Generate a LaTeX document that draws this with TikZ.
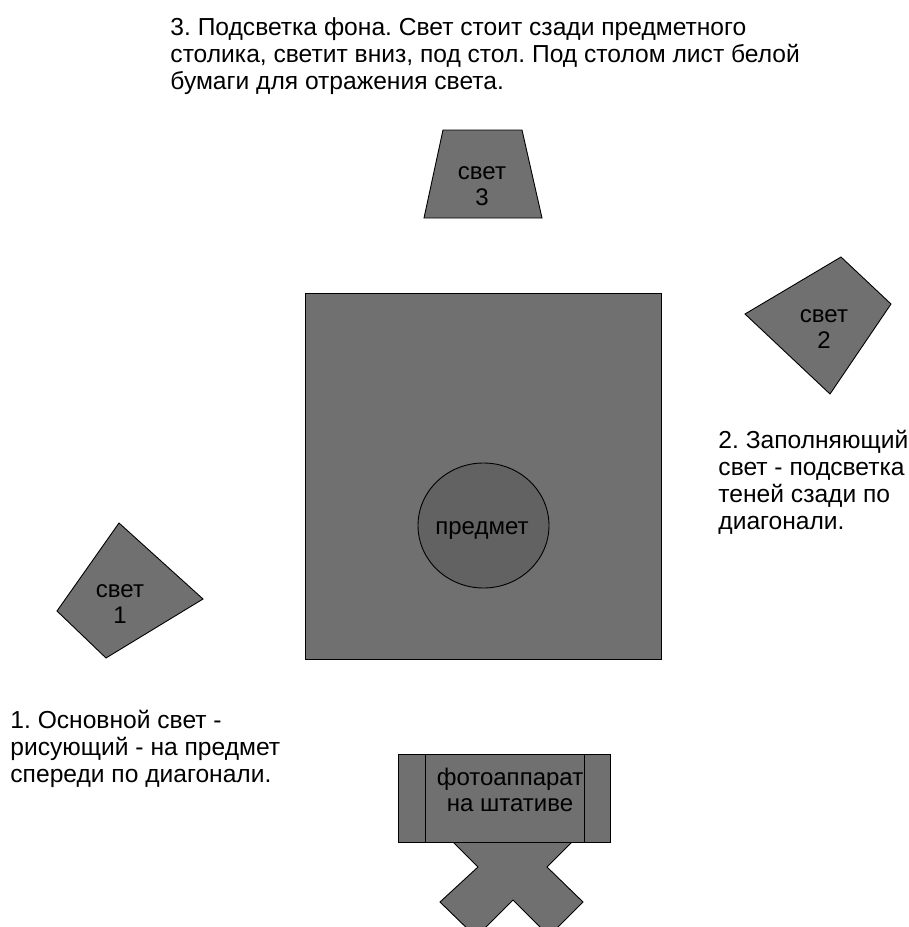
\documentclass[tikz,border=0pt]{standalone}
\usepackage{fontspec}
\setmainfont{Liberation Sans}
\usetikzlibrary{positioning}
\frenchspacing

\definecolor{tablegray}{RGB}{112,112,112}
\definecolor{objgray}{RGB}{98,98,98}

\begin{document}
\begin{tikzpicture}[x=1pt,y=-1pt,line width=0.9pt]
	
	\tikzset{piece/.style={draw=black, fill=tablegray}}
	\tikzset{label in/.style={align=center, inner sep=0pt,
			font=\fontsize{24}{26}\selectfont}}
	\tikzset{note/.style={anchor=north west, align=left, inner sep=0pt,
			font=\fontsize{24.6}{27}\selectfont}}
	
	\useasboundingbox (0,0) rectangle (909,927);
	
	% stol
	\draw[piece] (305,293) rectangle (661,659);
	\draw[draw=black, fill=objgray] (483.5,525.5) ellipse (65.5 and 62.5);
	\node[label in] (obj) at (482,531) {предмет};
	
	% svet 3
	\draw[piece] (443,130) -- (522,130) -- (542,218) -- (424,218) -- cycle;
	\node[label in] (L3) at (482,186) {свет\\3};
	
	% svet 2
	\draw[piece] (745,314) -- (841,257) -- (891,304) -- (830,394) -- cycle;
	\node[label in] (L2) at (824,329) {свет\\2};
	
	% svet 1
	\draw[piece] (119,523) -- (203,599) -- (106,658) -- (57,611) -- cycle;
	\node[label in] (L1) at (120,604) {свет\\1};
	
	% shtativ
	\begin{scope}
		\clip (0,0) rectangle (909,927);
		\draw[piece] (513,833) -- (553,793) -- (587,827) -- (547,867)
		-- (583,902) -- (549,936) -- (513,900) -- (476,937)
		-- (440,902) -- (478,867) -- (438,827) -- (473,793) -- cycle;
	\end{scope}
	\draw[piece] (398,754) rectangle (610,842);
	\draw (425,754) -- (425,842);
	\draw (584,754) -- (584,842);
	\node[label in] (cam) at (510,790) {фотоаппарат\\на штативе};
	
	% podpisi
	\node[note] (N3) at (170,17) {3. Подсветка фона. Свет стоит сзади предметного\\
		столика, светит вниз, под стол. Под столом лист белой\\
		бумаги для отражения света.};
	\node[note] (N2) at (718,430) {2. Заполняющий\\свет - подсветка\\
		теней сзади по\\диагонали.};
	\node[note] (N1) at (10,709.5) {1. Основной свет -\\рисующий - на предмет\\
		спереди по диагонали.};
	
\end{tikzpicture}
\end{document}
